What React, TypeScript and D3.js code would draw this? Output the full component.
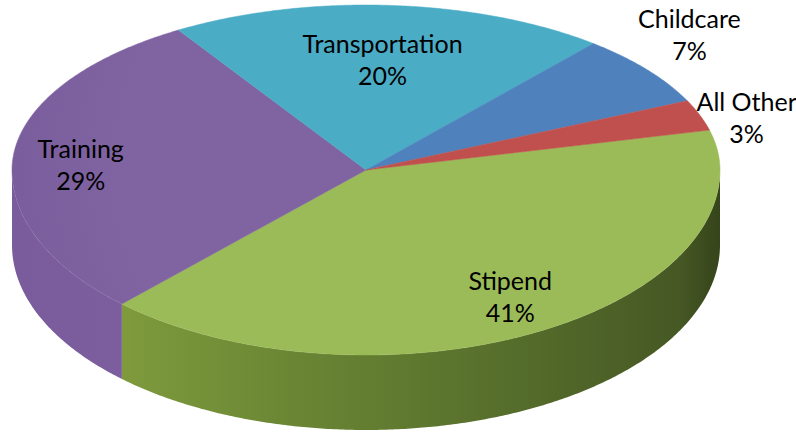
import React from "react";
import * as d3 from "d3";

const categories = ["Stipend", "Training", "Transportation", "Childcare", "All Other"];
const values = [41, 29, 20, 7, 3];
const percentLabels = ["41%", "29%", "20%", "7%", "3%"];
const topColors = ["#9bbb59", "#8064a2", "#4bacc6", "#4f81bd", "#c0504d"];

const W = 796;
const H = 434;
const CX = 366;
const CY = 170;
const RX = 354;
const RY_BACK = 165;
const RY_FRONT = 185;
const DEPTH = 75;
const START = (-14 * Math.PI) / 180;

// label layout (radial factor + vertical nudge)
const labelK = [0.81, 0.81, 0.67, 1.15, 1.14];
const labelDy = [-3, 9, 0, -20, 10];

function pt(t: number, z = 0): [number, number] {
  const s = Math.sin(t);
  return [CX + RX * Math.cos(t), CY + (s > 0 ? RY_FRONT : RY_BACK) * s + z];
}

function arcPts(a0: number, a1: number, z: number): [number, number][] {
  const n = Math.max(2, Math.ceil(Math.abs(a1 - a0) / (Math.PI / 360)));
  return d3.range(n + 1).map((i) => pt(a0 + ((a1 - a0) * i) / n, z));
}

const line = d3.line();

export default function App() {
  const pie = d3
    .pie<number>()
    .sort(null)
    .startAngle(0)
    .endAngle(2 * Math.PI);
  const arcs = pie(values);

  const walls: { d: string; i: number }[] = [];
  arcs.forEach((a, i) => {
    const a0 = START + a.startAngle;
    const a1 = START + a.endAngle;
    [0, 2 * Math.PI, -2 * Math.PI].forEach((off) => {
      const lo = Math.max(a0, off);
      const hi = Math.min(a1, off + Math.PI);
      if (lo < hi) {
        const top = arcPts(lo, hi, 0);
        const bot = arcPts(hi, lo, DEPTH);
        walls.push({ d: line([...top, ...bot])! + "Z", i });
      }
    });
  });

  const tops = arcs.map((a, i) => {
    const a0 = START + a.startAngle;
    const a1 = START + a.endAngle;
    const pts = [[CX, CY] as [number, number], ...arcPts(a0, a1, 0)];
    return { d: line(pts)! + "Z", i };
  });

  const labels = arcs.map((a, i) => {
    const mid = START + (a.startAngle + a.endAngle) / 2;
    const s = Math.sin(mid);
    const x = CX + RX * labelK[i] * Math.cos(mid);
    const y = CY + (s > 0 ? RY_FRONT : RY_BACK) * labelK[i] * s + labelDy[i];
    return { x, y, i };
  });

  return (
    <svg
      width={W}
      height={H}
      style={{ position: "absolute", left: 0, top: 0, background: "#fff" }}
      fontFamily="Lato, 'Open Sans', sans-serif"
    >
      <defs>
        <linearGradient id="wall0" gradientUnits="userSpaceOnUse" x1={110} y1={0} x2={722} y2={0}>
          <stop offset="0" stopColor="#809c3d" />
          <stop offset="0.3" stopColor="#6a8634" />
          <stop offset="0.7" stopColor="#536a2a" />
          <stop offset="0.93" stopColor="#465824" />
          <stop offset="1" stopColor="#35431a" />
        </linearGradient>
        <linearGradient id="wall1" gradientUnits="userSpaceOnUse" x1={12} y1={0} x2={120} y2={0}>
          <stop offset="0" stopColor="#7a5b9c" />
          <stop offset="1" stopColor="#7c5d9e" />
        </linearGradient>
        <radialGradient id="topPurple" gradientUnits="userSpaceOnUse" cx={CX} cy={CY} r={RX}>
          <stop offset="0.7" stopColor="#8064a2" />
          <stop offset="1" stopColor="#7a5d9c" />
        </radialGradient>
      </defs>
      {walls.map((w, k) => (
        <path key={"w" + k} d={w.d} fill={`url(#wall${w.i})`} />
      ))}
      {tops.map((t) => (
        <path
          key={"t" + t.i}
          d={t.d}
          fill={t.i === 1 ? "url(#topPurple)" : topColors[t.i]}
          stroke={topColors[t.i]}
          strokeWidth={0.5}
        />
      ))}
      {labels.map((l) => (
        <text key={"l" + l.i} x={l.x} textAnchor="middle" fontSize={25} fill="#000">
          <tspan x={l.x} y={l.y - 7}>
            {categories[l.i]}
          </tspan>
          <tspan x={l.x} y={l.y + 25}>
            {percentLabels[l.i]}
          </tspan>
        </text>
      ))}
    </svg>
  );
}
